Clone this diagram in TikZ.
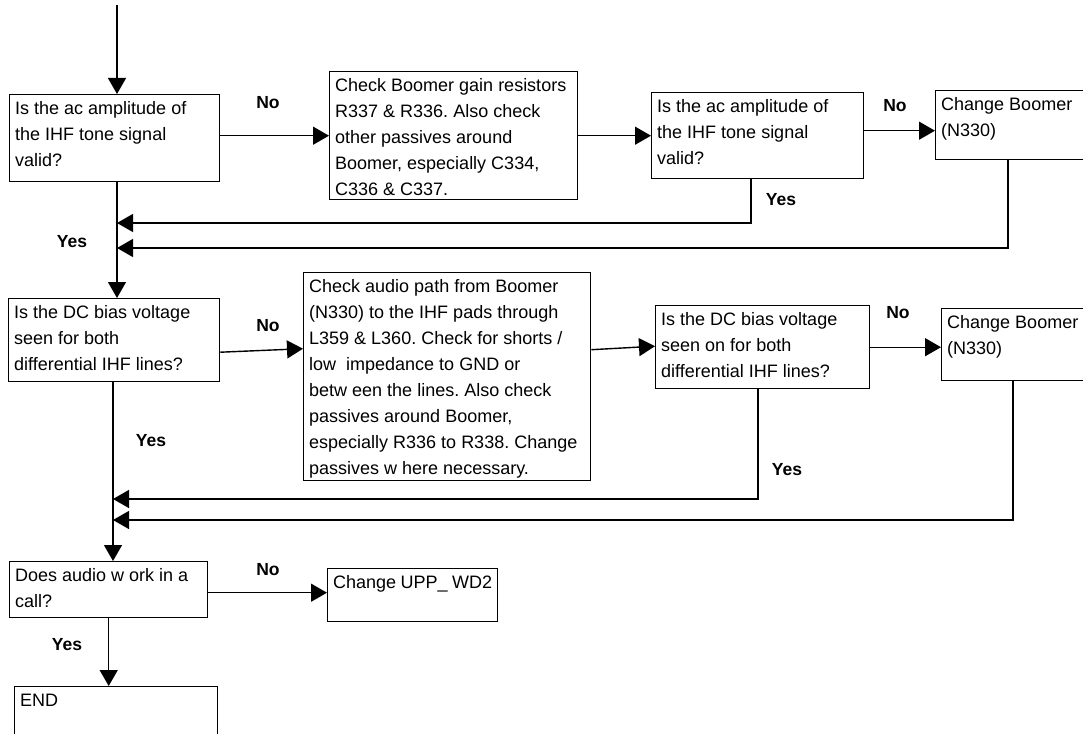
\documentclass[tikz,border=0pt]{standalone}
\usepackage{fontspec}
\setmainfont{Liberation Sans}
\usetikzlibrary{arrows.meta}
\frenchspacing

% top-aligned text block inside a fixed-size box
\newcommand{\flowtext}[3]{\parbox[t][#2][t]{#1}{\raggedright\strut #3}}

\begin{document}
\begin{tikzpicture}[x=1pt,y=-1pt,
  line width=1.4pt,
  box/.style={draw, line width=1.4pt, anchor=north west, inner xsep=5.5pt, inner ysep=2pt,
              font=\fontsize{18}{26}\selectfont},
  lab/.style={font=\fontsize{17.5}{20}\selectfont\bfseries, inner sep=0pt},
  arr/.style={-{Triangle[length=16pt,width=18pt]}},
]
\useasboundingbox (0,0) rectangle (1083,733);
\clip (0,0) rectangle (1083,733);

% first row
\node[box] (A1) at (9,94)   {\flowtext{199pt}{83pt}{Is the ac amplitude of\\the IHF tone signal\\valid?}};
\node[box] (B1) at (329,71) {\flowtext{237pt}{124pt}{Check Boomer gain resistors\\R337 \& R336. Also check\\other passives around\\Boomer, especially C334,\\C336 \& C337.}};
\node[box] (C1) at (651,92) {\flowtext{201pt}{82pt}{Is the ac amplitude of\\the IHF tone signal\\valid?}};
\node[box] (D1) at (935,90) {\flowtext{137pt}{65pt}{Change Boomer\\(N330)}};

% second row
\node[box] (A2) at (8,298)   {\flowtext{200pt}{79pt}{Is the DC bias voltage\\seen for both\\differential IHF lines?}};
\node[box] (B2) at (303,272) {\flowtext{276pt}{204pt}{Check audio path from Boomer\\(N330) to the IHF pads through\\L359 \& L360. Check for shorts /\\low\ \ impedance to GND or\\betw een the lines. Also check\\passives around Boomer,\\especially R336 to R338. Change\\passives w here necessary.}};
\node[box] (C2) at (655,305) {\flowtext{203pt}{79pt}{Is the DC bias voltage\\seen on for both\\differential IHF lines?}};
\node[box] (D2) at (941,308) {\flowtext{149pt}{68pt}{Change Boomer\\(N330)}};

% third row
\node[box] (A3) at (9,561)    {\flowtext{187pt}{52pt}{Does audio w ork in a\\call?}};
\node[box] (B3) at (327,568)  {\flowtext{159pt}{49pt}{Change UPP\_ WD2}};
\node[box] (END) at (14,686)  {\flowtext{192pt}{76pt}{END}};

% trunk positions
\coordinate (top) at (117,5);
\coordinate (trunkB) at (113,0);

\draw[arr] (top) -- (top |- A1.north);
\draw[arr] (A1.south -| top) -- (A2.north -| top);
\draw[arr] (A2.south -| trunkB) -- (A3.north -| trunkB);
\draw[arr] (A3.south) -- (A3.south |- END.north);

% "No" branches
\draw[arr] (B1.west -| A1.east) -- (B1.west);
\draw[arr] (C1.west -| B1.east) -- (C1.west);
\draw[arr] ([yshift=5pt]C1.east) -- ([yshift=5pt]C1.east -| D1.west);
\draw[arr] ([yshift=-12pt]A2.east) -- ([yshift=28pt]B2.west);
\draw[arr] ([yshift=27pt]B2.east) -- ([yshift=1pt]C2.west);
\draw[arr] (C2.east) -- (C2.east -| D2.west);
\draw[arr] ([yshift=-3pt]A3.east) -- ([yshift=-3pt]A3.east -| B3.west);

% return lines back to the trunk
\coordinate (c1r) at (751,223);
\coordinate (d1r) at (1008,248);
\coordinate (c2r) at (758,499);
\coordinate (d2r) at (1013,520);
\draw[arr] (C1.south -| c1r) -- (c1r) -- (c1r -| top);
\draw[arr] (D1.south -| d1r) -- (d1r) -- (d1r -| top);
\draw[arr] (C2.south -| c2r) -- (c2r) -- (c2r -| trunkB);
\draw[arr] (D2.south -| d2r) -- (d2r) -- (d2r -| trunkB);

% branch labels
\node[lab] (no1)  at (268,103) {No};
\node[lab] (no2)  at (895,106) {No};
\node[lab] (yes1) at (781,200) {Yes};
\node[lab] (yes2) at (72,242)  {Yes};
\node[lab] (no3)  at (268,326) {No};
\node[lab] (no4)  at (898,313) {No};
\node[lab] (yes3) at (151,441) {Yes};
\node[lab] (yes4) at (787,470) {Yes};
\node[lab] (no5)  at (268,570) {No};
\node[lab] (yes5) at (67,645)  {Yes};
\end{tikzpicture}
\end{document}
